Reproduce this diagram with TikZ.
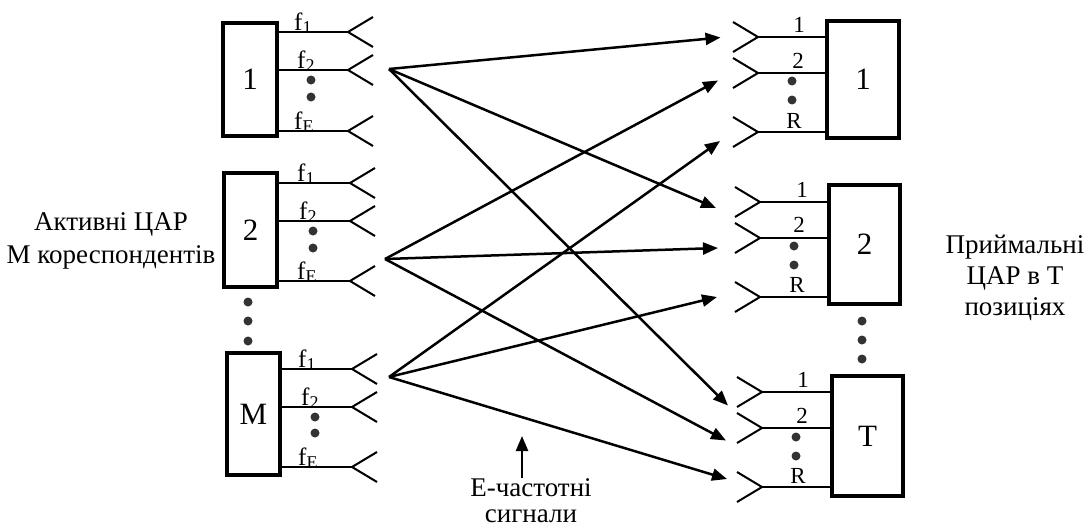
\documentclass[tikz,border=0pt]{standalone}
\usepackage{fontspec}
\setmainfont{Liberation Serif}
\usetikzlibrary{arrows.meta}
\newcommand\lsub[1]{\raisebox{-3pt}{\fontsize{18}{18}\selectfont #1}}
\newcommand\antL[4]{%
  \coordinate (#1) at (#3,#4);
  \draw[feed] (#2.east |- #1) -- (#1);
  \draw[ant] ([shift={(25,-15)}]#1) -- (#1) -- ([shift={(25,15)}]#1);}
\newcommand\antR[4]{%
  \coordinate (#1) at (#3,#4);
  \draw[feed] (#1) -- (#2.west |- #1);
  \draw[ant] ([shift={(-25,-15)}]#1) -- (#1) -- ([shift={(-25,15)}]#1);}
\tikzset{
  box/.style={draw, line width=3.5pt, fill=white, inner sep=0pt, font=\fontsize{31}{34}\selectfont},
  feed/.style={line width=2pt},
  ant/.style={line width=2pt},
  sig/.style={line width=2.5pt, -{Triangle[length=15pt,width=12pt]}},
  dotc/.style={circle, fill=black!80, inner sep=0pt, minimum size=9pt},
  flab/.style={font=\fontsize{25}{25}\selectfont, anchor=base west, inner sep=0pt},
  rlab/.style={font=\fontsize{23}{23}\selectfont, anchor=base, inner sep=0pt},
  bigt/.style={font=\fontsize{27}{31}\selectfont, align=center, inner sep=0pt},
}
\begin{document}
\begin{tikzpicture}[x=1pt,y=-1pt]
\useasboundingbox (0,0) rectangle (1091,528);
% left boxes
\node[box, minimum width=54pt, minimum height=113pt] (b1) at (250,79.5) {\raisebox{-5pt}{1}};
\node[box, minimum width=53pt, minimum height=114pt] (b2) at (250.5,230) {\raisebox{-3pt}{2}};
\node[box, minimum width=53pt, minimum height=122pt] (bM) at (253.5,414) {M};
% right boxes
\node[box, minimum width=72pt, minimum height=117pt] (r1) at (863,79.5) {\raisebox{-4pt}{1}};
\node[box, minimum width=71pt, minimum height=119pt] (r2) at (864.5,244.5) {2};
\node[box, minimum width=71pt, minimum height=120pt] (rT) at (867.5,436) {T};
% left antennas
\antL{a11}{b1}{348}{32}
\antL{a12}{b1}{348}{70}
\antL{a1E}{b1}{348}{131}
\antL{a21}{b2}{350}{183}
\antL{a22}{b2}{350}{221}
\antL{a2E}{b2}{350}{281}
\antL{aM1}{bM}{352}{369}
\antL{aM2}{bM}{352}{407}
\antL{aME}{bM}{352}{467}
% right antennas
\antR{c11}{r1}{758}{37}
\antR{c12}{r1}{758}{73}
\antR{c1R}{r1}{758}{132}
\antR{c21}{r2}{760}{202}
\antR{c22}{r2}{760}{238}
\antR{c2R}{r2}{760}{297}
\antR{cT1}{rT}{762}{392}
\antR{cT2}{rT}{762}{428}
\antR{cTR}{rT}{762}{487}
% left labels
\node[flab] (l11) at (294,30.5) {f\lsub{1}};
\node[flab] (l12) at (297,68.5) {f\lsub{2}};
\node[flab] (l1E) at (294,129.5) {f\lsub{E}};
\node[flab] (l21) at (297,181.5) {f\lsub{1}};
\node[flab] (l22) at (299,219.5) {f\lsub{2}};
\node[flab] (l2E) at (297,279.5) {f\lsub{E}};
\node[flab] (lM1) at (298,367.5) {f\lsub{1}};
\node[flab] (lM2) at (301,405.5) {f\lsub{2}};
\node[flab] (lME) at (298,465.5) {f\lsub{E}};
% right labels
\node[rlab] (m11) at (799,32) {1};
\node[rlab] (m12) at (798,68) {2};
\node[rlab] (m1R) at (794,128) {R};
\node[rlab] (m21) at (802,197) {1};
\node[rlab] (m22) at (799,232) {2};
\node[rlab] (m2R) at (797,292) {R};
\node[rlab] (mT1) at (803,387) {1};
\node[rlab] (mT2) at (802,423) {2};
\node[rlab] (mTR) at (798,483) {R};
% dots
\node[dotc] (d11) at (311,80) {};
\node[dotc] (d12) at (311,97) {};
\node[dotc] (d21) at (313,231) {};
\node[dotc] (d22) at (313,248) {};
\node[dotc] (dM1) at (315,417) {};
\node[dotc] (dM2) at (315,433) {};
\node[dotc] (e11) at (792,81) {};
\node[dotc] (e12) at (792,100) {};
\node[dotc] (e21) at (794,246) {};
\node[dotc] (e22) at (794,265) {};
\node[dotc] (eT1) at (796,437) {};
\node[dotc] (eT2) at (796,456) {};
\node[dotc] (v1) at (248,302) {};
\node[dotc] (v2) at (248,321) {};
\node[dotc] (v3) at (248,341) {};
\node[dotc] (w1) at (862,321) {};
\node[dotc] (w2) at (862,340) {};
\node[dotc] (w3) at (862,359) {};
% signal paths
\coordinate (s1) at (389,69);
\coordinate (s2) at (385,259);
\coordinate (s3) at (389,377);
\coordinate (t11) at (720.5,37.5);
\coordinate (t12) at (718,80.5);
\coordinate (t1R) at (720,141);
\coordinate (t21) at (716,208);
\coordinate (t22) at (718,248);
\coordinate (t2R) at (717,297);
\coordinate (tT1) at (728,405.5);
\coordinate (tT2) at (726,440.5);
\coordinate (tTR) at (727,479);
\draw[sig] (s1) -- (t11);
\draw[sig] (s1) -- (t21);
\draw[sig] (s1) -- (tT1);
\draw[sig] (s2) -- (t12);
\draw[sig] (s2) -- (t22);
\draw[sig] (s2) -- (tT2);
\draw[sig] (s3) -- (t1R);
\draw[sig] (s3) -- (t2R);
\draw[sig] (s3) -- (tTR);
% texts
\node[bigt, anchor=base] (lt1) at (111,230) {Активні ЦАР};
\node[bigt, anchor=base] (lt2) at (111,263) {М кореспондентів};
\node[bigt] (rt) at (1015,277.5) {Приймальні\\ЦАР в Т\\позиціях};
\node[bigt, font=\fontsize{27}{26}\selectfont, anchor=north] (bt) at (531,478) {E-частотні\\сигнали};
\coordinate (up) at (522,436);
\draw[sig] (bt.north -| up) -- (up);
\end{tikzpicture}
\end{document}
